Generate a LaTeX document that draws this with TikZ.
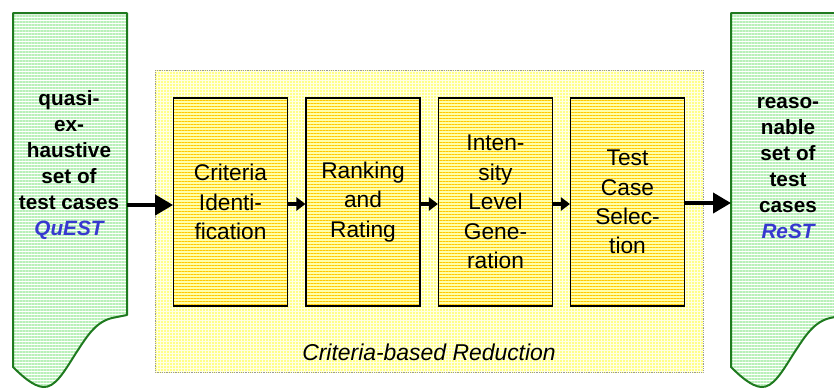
\documentclass[tikz,border=0pt]{standalone}
\usepackage{fontspec}
\setmainfont{Liberation Sans}
\usetikzlibrary{patterns.meta,arrows.meta}

\definecolor{docgreen}{HTML}{1F7A1F}
\definecolor{docstripe}{HTML}{B8F0B8}
\definecolor{bgstripe}{HTML}{FFFF88}
\definecolor{bgbase}{HTML}{FFFFE6}
\definecolor{boxstripe}{HTML}{FFC800}
\definecolor{boxbase}{HTML}{FFFFA8}
\definecolor{acrocol}{HTML}{3838D0}

\tikzset{
  stripes/.style 2 args={pattern={Lines[angle=0,distance=3bp,line width=#2]},pattern color=#1},
  docshape/.style={draw=docgreen,line width=2bp,line join=round,
    preaction={fill=white},stripes={docstripe}{1.3bp}},
  reductionarea/.style={draw=gray!80,densely dotted,line width=0.8bp,
    preaction={fill=bgbase},stripes={bgstripe}{1.3bp}},
  stepbox/.style={draw=black,line width=1.1bp,minimum width=114bp,minimum height=208bp,
    inner sep=0pt,preaction={fill=boxbase},stripes={boxstripe}{0.8bp},
    align=center,font=\fontsize{22.8}{29.5}\selectfont},
  doctext/.style={align=center,font=\bfseries\fontsize{20.8}{26}\selectfont},
  bigarrow/.style={line width=4bp,-{Triangle[length=18bp,width=20bp]}},
  smallarrow/.style={line width=3.5bp,-{Triangle[length=9bp,width=13bp]}},
}

\begin{document}
\begin{tikzpicture}[x=1bp,y=-1bp]
\useasboundingbox (0,0) rectangle (834,388);

% document outline (a sheet with a wavy lower edge)
\def\docpath#1{%
  (#1+13,13) -- (#1+127,13) -- (#1+127,315) -- (#1+112,318)
  .. controls (#1+95,322) and (#1+86,338) .. (#1+76,353)
  .. controls (#1+64,372) and (#1+55,388) .. (#1+43,387)
  .. controls (#1+33,386) and (#1+22,376) .. (#1+13,367) -- cycle}

% input document
\draw[docshape] \docpath{0};
\node[doctext] (quest) at (69,165)
  {quasi-\\ex-\\haustive\\set of\\test cases\\\textcolor{acrocol}{\itshape QuEST}};
\coordinate (questR) at (127,205);

% output document, running off the right edge
\begin{scope}
  \clip (0,0) rectangle (834,388);
  \draw[docshape] \docpath{718};
\end{scope}
\node[doctext] (rest) at (788,168)
  {reaso-\\nable\\set of\\test\\cases\\\textcolor{acrocol}{\itshape ReST}};
\coordinate (restL) at (731,203);

% reduction area
\draw[reductionarea] (155,70) rectangle (703,372);
\node[font=\itshape\fontsize{23}{27}\selectfont] (label) at (429,352)
  {Criteria-based Reduction};

% the four steps
\node[stepbox] (s1) at (230.5,202) {Criteria\\Identi-\\fication};
\node[stepbox] (s2) at (363,202) {Ranking\\and\\Rating};
\node[stepbox] (s3) at (495.5,202) {Inten-\\sity\\Level\\Gene-\\ration};
\node[stepbox] (s4) at (627.5,202) {Test\\Case\\Selec-\\tion};

% flow
\draw[bigarrow] (questR) -- (questR -| s1.west);
\draw[smallarrow] (s1.east |- 0,204) -- (s2.west |- 0,204);
\draw[smallarrow] (s2.east |- 0,204) -- (s3.west |- 0,204);
\draw[smallarrow] (s3.east |- 0,204) -- (s4.west |- 0,204);
\draw[bigarrow] (s4.east |- restL) -- (restL);
\end{tikzpicture}
\end{document}
